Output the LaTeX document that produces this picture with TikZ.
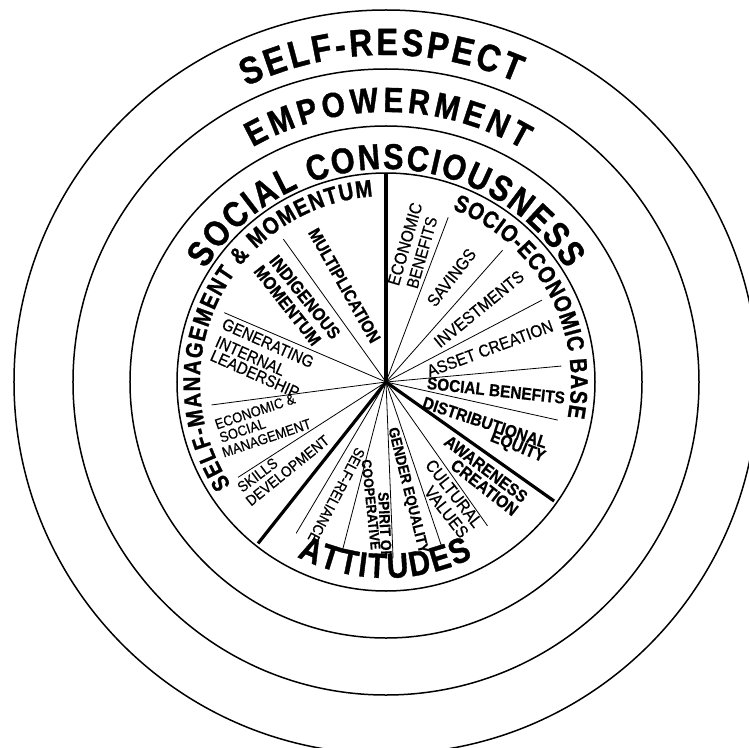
\documentclass[tikz,border=0pt]{standalone}
\usepackage{fontspec}
\setmainfont{Liberation Sans}[FakeStretch=0.9, BoldFeatures={FakeBold=0.6}]
\newfontfamily\arcfont{Liberation Sans}[FakeStretch=0.85, BoldFeatures={FakeBold=1}]
\newfontfamily\medfont{Liberation Sans}[FakeStretch=0.9, FakeBold=0.5]
\usetikzlibrary{decorations.text}
\newcommand\fsz[1]{\fontsize{#1}{#1}\selectfont}
\begin{document}
\begin{tikzpicture}[x=1pt,y=1pt,
  ring/.style={line width=1.5pt},
  thickdiv/.style={line width=3.2pt},
  thindiv/.style={line width=0.8pt},
  lab/.style={inner sep=0pt, anchor=center},
  bl/.style={lab, font=\bfseries\fsz{#1}},
  rg/.style={lab, font=\medfont\fsz{#1}},
  arctext/.style={decorate, decoration={text along path, text align=fit to path, text={#1}}}
  ]
\useasboundingbox (-386,-365) rectangle (363,382);
\clip (-386,-365) rectangle (363,382);
\coordinate (hub) at (0,0);
% rings
\draw[ring] (hub) circle[radius=372];
\draw[ring] (hub) circle[radius=313];
\draw[ring] (hub) circle[radius=256];
\draw[ring] (hub) circle[radius=209];
% dividers
\draw[thickdiv] (hub) -- (90:209);
\draw[thickdiv] (hub) -- (-35.3:206);
\draw[thickdiv] (hub) -- (231.6:206);
\foreach \a in {125.7,156.8,187.5,212.8,-120.7,-104.5,-87.7,-71.3,-54.8,-12.5,5.2,27.7,48.5,69.3}
  \draw[thindiv] (hub) -- (\a:176);
% ring texts
\path[arctext={|\arcfont\bfseries\fsz{38}|SELF-RESPECT}] (115.3:327) arc[start angle=115.3,end angle=66.4,radius=327];
\path[arctext={|\arcfont\bfseries\fsz{35}|EMPOWERMENT}] (119.6:270) arc[start angle=119.6,end angle=59.5,radius=270];
\path[arctext={|\arcfont\bfseries\fsz{36}|SOCIAL CONSCIOUSNESS}] (148:213) arc[start angle=148,end angle=32,radius=213];
\path[arctext={|\arcfont\bfseries\fsz{24}|SELF-MANAGEMENT {\&} MOMENTUM}] (213.6:186) arc[start angle=213.6,end angle=94,radius=186];
\path[arctext={|\arcfont\bfseries\fsz{24}|SOCIO-ECONOMIC BASE}] (69:185) arc[start angle=69,end angle=-11,radius=185];
\path[arctext={|\arcfont\bfseries\fsz{35}|ATTITUDES}] (-117:196) arc[start angle=-117,end angle=-63.7,radius=196];
% self-management & momentum sector
\node[bl=17.2, rotate=-60.5] (mult) at (-41.5,96.5) {MULTIPLICATION};
\node[bl=17.8, rotate=-51.3] (indig1) at (-81,85) {INDIGENOUS};
\node[bl=17.8, rotate=-51.8] (indig2) at (-98.5,76.5) {MOMENTUM};
\node[rg=16.7, rotate=-24] (gen1) at (-118,39) {GENERATING};
\node[rg=16.7, rotate=-24] (gen2) at (-135.5,26) {INTERNAL};
\node[rg=16.7, rotate=-24] (gen3) at (-131,8) {LEADERSHIP};
\node[rg=14.4, rotate=18.6] (esm1) at (-131,-29.5) {ECONOMIC \&};
\node[rg=14.4, rotate=18.6] (esm2) at (-143.5,-48.5) {SOCIAL};
\node[rg=14.4, rotate=18.6] (esm3) at (-119.5,-56) {MANAGEMENT};
\node[rg=15, rotate=37] (sk1) at (-128.5,-93) {SKILLS};
\node[rg=15, rotate=39] (sk2) at (-98.5,-88.5) {DEVELOPMENT};
% socio-economic base sector
\node[rg=17.2, rotate=73.7] (eb1) at (19,138) {ECONOMIC};
\node[rg=16.7, rotate=74] (eb2) at (36,129.5) {BENEFITS};
\node[rg=17.2, rotate=52] (sav) at (65.5,104.5) {SAVINGS};
\node[rg=17.2, rotate=39.3] (inv) at (93,73) {INVESTMENTS};
\node[rg=17.1, rotate=20.5] (asset) at (104,33.5) {ASSET CREATION};
\node[bl=17.1, rotate=-6.2] (socben) at (110,-8.5) {SOCIAL BENEFITS};
\node[bl=17.1, rotate=-18.3] (dist1) at (99,-40.5) {DISTRIBUTIONAL};
\node[bl=17.1, rotate=-22] (dist2) at (131.5,-65.5) {EQUITY};
% attitudes sector
\node[bl=17.2, rotate=-37] (aw1) at (100,-87) {AWARENESS};
\node[bl=17.2, rotate=-38] (aw2) at (98.5,-105.5) {CREATION};
\node[rg=17.2, rotate=-52] (cul1) at (68,-111.5) {CULTURAL};
\node[rg=17.2, rotate=-52] (cul2) at (60.5,-130) {VALUES};
\node[bl=14.9, rotate=-76] (gend) at (21.5,-108.5) {GENDER EQUALITY};
\node[bl=15.2, rotate=-87] (spir1) at (-1,-143.5) {SPIRIT OF};
\node[bl=14, rotate=-84] (spir2) at (-15,-122.5) {COOPERATIVE};
\node[rg=14.9, rotate=-117.8] (selfrel) at (-49.6,-113.3) {SELF-RELIANCE};
\end{tikzpicture}
\end{document}
